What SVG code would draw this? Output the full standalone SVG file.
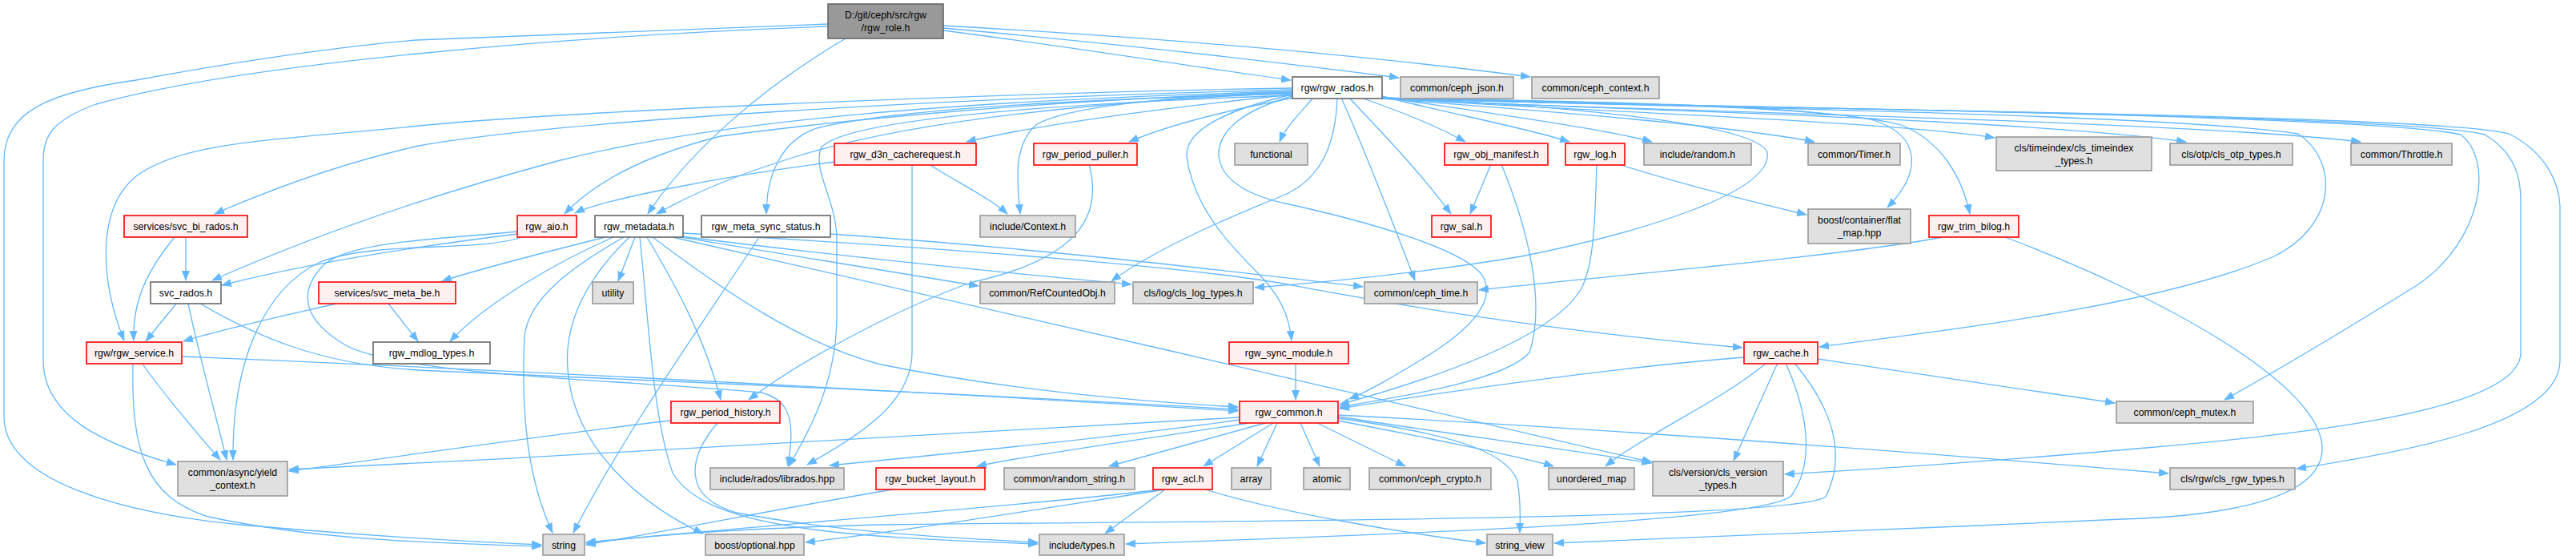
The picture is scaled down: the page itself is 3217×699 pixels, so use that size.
<svg xmlns="http://www.w3.org/2000/svg" width="3217" height="699" viewBox="0 0 3217 699">
<defs>
<style>
.e{fill:none;stroke:#63b8ff;stroke-width:1.3}
.n rect{stroke-width:1.6}
.rt rect{fill:#999999;stroke:#666666}
.w rect{fill:#ffffff;stroke:#666666}
.r rect{fill:#fff0f0;stroke:#ff0000}
.g rect{fill:#e0e0e0;stroke:#999999}
text{font-family:"Liberation Sans",Arial,Helvetica,sans-serif;font-size:12.3px;text-anchor:middle;fill:#000}
</style>
<marker id="a" markerWidth="13" markerHeight="10" refX="12" refY="5" orient="auto" markerUnits="userSpaceOnUse"><path d="M0,0 L13,5 L0,10 Z" fill="#63b8ff"/></marker>
</defs>
<rect width="3217" height="699" fill="#ffffff"/>
<g id="edges">
<path class="e" marker-end="url(#a)" d="M1178,38 C1350,60 1500,85 1612,100"/>
<path class="e" marker-end="url(#a)" d="M1178,35 C1400,55 1600,78 1747,97"/>
<path class="e" marker-end="url(#a)" d="M1178,32 C1500,50 1750,75 1911,96"/>
<path class="e" marker-end="url(#a)" d="M1056,48 C950,110 860,190 809,267"/>
<path class="e" marker-end="url(#a)" d="M1034,33 C700,45 300,80 120,130 C65,150 54,170 54,200 L54,450 C54,520 130,555 220,580"/>
<path class="e" marker-end="url(#a)" d="M1034,30 C800,38 600,48 520,50 C400,60 250,85 170,100 C60,115 5,140 5,200 L5,520 C5,600 150,640 300,655 C450,668 580,676 676,680"/>
<path class="e" marker-end="url(#a)" d="M1614,112 C1200,122 700,150 523,182 C420,205 330,240 268,267"/>
<path class="e" marker-end="url(#a)" d="M1614,110 C1200,117 700,140 523,157 C350,175 230,175 170,220 C120,260 125,350 155,425"/>
<path class="e" marker-end="url(#a)" d="M1614,114 C1200,125 900,150 700,200 C550,240 400,290 265,350"/>
<path class="e" marker-end="url(#a)" d="M1614,115 C1300,125 1050,150 900,170 C800,195 740,230 705,267"/>
<path class="e" marker-end="url(#a)" d="M1614,116 C1300,130 1100,160 980,200 C900,225 850,250 820,267"/>
<path class="e" marker-end="url(#a)" d="M1614,117 C1300,125 1100,140 1020,160 C975,175 957,220 957,267"/>
<path class="e" marker-end="url(#a)" d="M1614,118 C1450,135 1300,155 1207,177"/>
<path class="e" marker-end="url(#a)" d="M1614,115 C1450,120 1330,135 1295,155 C1265,180 1270,225 1274,267"/>
<path class="e" marker-end="url(#a)" d="M1616,122 C1520,140 1450,160 1410,177"/>
<path class="e" marker-end="url(#a)" d="M1640,122 C1620,145 1605,160 1598,177"/>
<path class="e" marker-end="url(#a)" d="M1700,122 C1750,140 1790,155 1830,177"/>
<path class="e" marker-end="url(#a)" d="M1685,122 C1720,160 1770,210 1812,267"/>
<path class="e" marker-end="url(#a)" d="M1726,120 C1800,140 1900,158 1960,177"/>
<path class="e" marker-end="url(#a)" d="M1726,121 C1850,140 2000,160 2063,177"/>
<path class="e" marker-end="url(#a)" d="M1724,123 C1900,136 2150,155 2266,177"/>
<path class="e" marker-end="url(#a)" d="M1724,122 C1900,136 2350,150 2491,172"/>
<path class="e" marker-end="url(#a)" d="M1724,122 C1900,135 2500,145 2730,177"/>
<path class="e" marker-end="url(#a)" d="M1724,122 C1900,136 2700,148 2948,177"/>
<path class="e" marker-end="url(#a)" d="M1724,122 C1900,127 2250,130 2340,150 C2400,170 2400,215 2357,259"/>
<path class="e" marker-end="url(#a)" d="M1724,122 C1900,126 2280,128 2377,157 C2425,178 2450,220 2460,267"/>
<path class="e" marker-end="url(#a)" d="M1675,122 C1710,200 1740,280 1767,350"/>
<path class="e" marker-end="url(#a)" d="M1724,122 C1900,130 2700,140 2870,167 C2920,200 2920,280 2840,320 C2700,380 2450,410 2272,433"/>
<path class="e" marker-end="url(#a)" d="M1724,122 C1900,131 2950,140 3073,168 C3115,200 3100,300 3020,355 C2900,430 2830,470 2778,499"/>
<path class="e" marker-end="url(#a)" d="M1724,122 C1900,132 3000,140 3103,168 C3140,190 3148,220 3148,250 L3148,440 C3148,510 2900,540 2680,559 C2500,575 2350,585 2229,592"/>
<path class="e" marker-end="url(#a)" d="M1724,122 C1900,133 3050,140 3133,167 C3180,190 3197,230 3197,260 L3197,450 C3197,530 3000,565 2868,585"/>
<path class="e" marker-end="url(#a)" d="M1670,122 C1668,180 1650,225 1600,245 C1500,285 1430,320 1388,351"/>
<path class="e" marker-end="url(#a)" d="M1724,122 C1900,129 2190,150 2207,190 C2215,240 2050,290 1900,320 C1750,345 1620,355 1567,359"/>
<path class="e" marker-end="url(#a)" d="M1614,118 C1540,135 1480,160 1482,195 C1490,260 1540,310 1570,340 C1600,370 1610,395 1613,425"/>
<path class="e" marker-end="url(#a)" d="M1614,120 C1560,135 1520,160 1522,195 C1525,225 1560,245 1610,255 C1700,275 1830,310 1852,345 C1868,375 1840,410 1775,449 C1740,470 1710,488 1685,498"/>
<path class="e" marker-end="url(#a)" d="M1614,119 C1300,130 1050,150 1025,185 C1015,215 1045,250 1045,300 L1045,400 C1043,480 1010,540 985,582"/>
<path class="e" marker-end="url(#a)" d="M646,292 C500,310 380,330 277,356"/>
<path class="e" marker-end="url(#a)" d="M651,296 C600,315 470,300 400,327 C330,360 290,450 291,574"/>
<path class="e" marker-end="url(#a)" d="M646,289 C560,298 440,300 405,330 C370,365 380,400 430,430 C500,470 800,475 950,490 C995,500 990,540 984,582"/>
<path class="e" marker-end="url(#a)" d="M756,296 C680,315 600,335 552,351"/>
<path class="e" marker-end="url(#a)" d="M766,296 C700,325 610,375 562,426"/>
<path class="e" marker-end="url(#a)" d="M779,296 C720,330 660,370 655,420 C650,520 660,600 690,665"/>
<path class="e" marker-end="url(#a)" d="M793,296 L772,351"/>
<path class="e" marker-end="url(#a)" d="M786,296 C740,340 700,400 710,470 C720,560 800,630 878,666"/>
<path class="e" marker-end="url(#a)" d="M799,296 C810,400 815,520 840,590 C880,660 1050,670 1296,679"/>
<path class="e" marker-end="url(#a)" d="M808,296 C840,350 880,420 900,499"/>
<path class="e" marker-end="url(#a)" d="M815,296 C900,360 1000,430 1100,455 C1250,485 1400,500 1546,508"/>
<path class="e" marker-end="url(#a)" d="M840,296 C1200,380 1700,490 2063,577"/>
<path class="e" marker-end="url(#a)" d="M850,296 C1000,320 1150,345 1222,357"/>
<path class="e" marker-end="url(#a)" d="M850,295 C1050,320 1300,345 1413,355"/>
<path class="e" marker-end="url(#a)" d="M853,291 C1200,310 1500,335 1608,355 C1700,372 1900,410 2176,434"/>
<path class="e" marker-end="url(#a)" d="M1037,292 C1300,310 1550,340 1702,358"/>
<path class="e" marker-end="url(#a)" d="M948,296 C880,400 780,540 716,665"/>
<path class="e" marker-end="url(#a)" d="M1042,202 C900,220 750,250 718,266"/>
<path class="e" marker-end="url(#a)" d="M1160,205 C1200,230 1240,250 1258,267"/>
<path class="e" marker-end="url(#a)" d="M1139,205 L1139,440 C1139,500 1080,540 1008,580"/>
<path class="e" marker-end="url(#a)" d="M1360,205 C1375,260 1360,320 1215,352 C1120,385 1000,450 935,499"/>
<path class="e" marker-end="url(#a)" d="M1862,205 L1836,267"/>
<path class="e" marker-end="url(#a)" d="M1875,205 C1910,290 1930,380 1910,440 C1880,475 1750,495 1673,508"/>
<path class="e" marker-end="url(#a)" d="M2021,205 C2100,230 2180,250 2256,268"/>
<path class="e" marker-end="url(#a)" d="M1994,205 C1992,280 1990,330 1975,360 C1940,420 1800,470 1673,505"/>
<path class="e" marker-end="url(#a)" d="M2426,296 C2300,320 2000,345 1847,362"/>
<path class="e" marker-end="url(#a)" d="M2504,296 C2700,370 2900,480 2900,560 C2900,630 2750,645 2650,648 C2400,660 2100,670 1941,678"/>
<path class="e" marker-end="url(#a)" d="M420,379 C350,395 280,410 229,426"/>
<path class="e" marker-end="url(#a)" d="M485,379 L522,426"/>
<path class="e" marker-end="url(#a)" d="M220,379 L182,426"/>
<path class="e" marker-end="url(#a)" d="M235,379 C250,450 270,520 283,574"/>
<path class="e" marker-end="url(#a)" d="M250,379 C320,420 400,455 523,462 C800,475 1200,490 1546,511"/>
<path class="e" marker-end="url(#a)" d="M232,296 L232,350"/>
<path class="e" marker-end="url(#a)" d="M218,296 C190,330 165,370 167,425"/>
<path class="e" marker-end="url(#a)" d="M177,453 C210,500 250,545 275,574"/>
<path class="e" marker-end="url(#a)" d="M166,454 C164,560 180,620 260,645 C400,675 550,678 676,682"/>
<path class="e" marker-end="url(#a)" d="M227,445 C500,456 1000,480 1546,513"/>
<path class="e" marker-end="url(#a)" d="M838,525 C700,540 500,570 361,588"/>
<path class="e" marker-end="url(#a)" d="M896,528 C860,570 850,620 920,640 C1050,665 1200,672 1296,677"/>
<path class="e" marker-end="url(#a)" d="M1548,521 C1300,535 800,565 361,586"/>
<path class="e" marker-end="url(#a)" d="M1548,524 C1400,545 1200,565 1036,581"/>
<path class="e" marker-end="url(#a)" d="M1560,528 C1450,545 1300,565 1220,582"/>
<path class="e" marker-end="url(#a)" d="M1580,528 L1385,582"/>
<path class="e" marker-end="url(#a)" d="M1590,528 L1503,582"/>
<path class="e" marker-end="url(#a)" d="M1595,528 L1570,582"/>
<path class="e" marker-end="url(#a)" d="M1624,528 L1648,582"/>
<path class="e" marker-end="url(#a)" d="M1645,528 L1755,582"/>
<path class="e" marker-end="url(#a)" d="M1671,525 C1750,540 1900,570 1940,582"/>
<path class="e" marker-end="url(#a)" d="M1671,520 C1800,540 1950,560 2062,578"/>
<path class="e" marker-end="url(#a)" d="M1671,518 C2000,535 2400,565 2708,591"/>
<path class="e" marker-end="url(#a)" d="M1671,522 C1800,540 1880,560 1895,600 C1900,630 1898,650 1898,665"/>
<path class="e" marker-end="url(#a)" d="M1618,453 L1618,499"/>
<path class="e" marker-end="url(#a)" d="M1449,611 C1300,630 900,660 732,677"/>
<path class="e" marker-end="url(#a)" d="M1455,611 C1300,635 1150,660 1006,677"/>
<path class="e" marker-end="url(#a)" d="M1455,611 L1380,666"/>
<path class="e" marker-end="url(#a)" d="M1505,611 C1600,640 1750,665 1855,678"/>
<path class="e" marker-end="url(#a)" d="M1115,611 C1000,630 850,660 732,680"/>
<path class="e" marker-end="url(#a)" d="M2178,446 C2000,460 1800,490 1673,510"/>
<path class="e" marker-end="url(#a)" d="M2270,448 L2641,503"/>
<path class="e" marker-end="url(#a)" d="M2206,453 C2150,500 2050,545 2005,582"/>
<path class="e" marker-end="url(#a)" d="M2220,453 L2165,575"/>
<path class="e" marker-end="url(#a)" d="M2230,453 C2260,520 2265,580 2237,619 C2200,650 1800,665 1406,679"/>
<path class="e" marker-end="url(#a)" d="M2241,453 C2280,500 2310,560 2280,620 C2240,650 1500,650 1100,655 C900,660 800,670 732,678"/>
</g>
<g id="n_root" class="n rt"><rect x="1034" y="5" width="144" height="43"/><text x="1106" y="23">D:/git/ceph/src/rgw</text><text x="1106" y="39">/rgw_role.h</text></g>
<g id="n_rados" class="n w"><rect x="1614" y="96" width="112" height="27"/><text x="1670" y="114">rgw/rgw_rados.h</text></g>
<g id="n_ceph_json" class="n g"><rect x="1749" y="96" width="141" height="27"/><text x="1819.5" y="114">common/ceph_json.h</text></g>
<g id="n_ceph_context" class="n g"><rect x="1913" y="96" width="159" height="27"/><text x="1992.5" y="114">common/ceph_context.h</text></g>
<g id="n_svc_bi_rados" class="n r"><rect x="155" y="269" width="154" height="27"/><text x="232" y="287">services/svc_bi_rados.h</text></g>
<g id="n_rgw_aio" class="n r"><rect x="646" y="269" width="74" height="27"/><text x="683" y="287">rgw_aio.h</text></g>
<g id="n_rgw_metadata" class="n w"><rect x="743" y="269" width="110" height="27"/><text x="798" y="287">rgw_metadata.h</text></g>
<g id="n_meta_sync_status" class="n w"><rect x="876" y="269" width="161" height="27"/><text x="956.5" y="287">rgw_meta_sync_status.h</text></g>
<g id="n_d3n" class="n r"><rect x="1042" y="179" width="177" height="27"/><text x="1130.5" y="197">rgw_d3n_cacherequest.h</text></g>
<g id="n_period_puller" class="n r"><rect x="1291" y="179" width="129" height="27"/><text x="1355.5" y="197">rgw_period_puller.h</text></g>
<g id="n_context" class="n g"><rect x="1224" y="269" width="119" height="27"/><text x="1283.5" y="287">include/Context.h</text></g>
<g id="n_functional" class="n g"><rect x="1542" y="179" width="91" height="27"/><text x="1587.5" y="197">functional</text></g>
<g id="n_obj_manifest" class="n r"><rect x="1804" y="179" width="129" height="27"/><text x="1868.5" y="197">rgw_obj_manifest.h</text></g>
<g id="n_rgw_log" class="n r"><rect x="1955" y="179" width="74" height="27"/><text x="1992" y="197">rgw_log.h</text></g>
<g id="n_random" class="n g"><rect x="2053" y="179" width="134" height="27"/><text x="2120" y="197">include/random.h</text></g>
<g id="n_rgw_sal" class="n r"><rect x="1788" y="269" width="74" height="27"/><text x="1825" y="287">rgw_sal.h</text></g>
<g id="n_timer" class="n g"><rect x="2258" y="179" width="115" height="27"/><text x="2315.5" y="197">common/Timer.h</text></g>
<g id="n_timeindex" class="n g"><rect x="2493" y="171" width="194" height="42"/><text x="2590" y="189">cls/timeindex/cls_timeindex</text><text x="2590" y="205">_types.h</text></g>
<g id="n_flat_map" class="n g"><rect x="2258" y="261" width="128" height="43"/><text x="2322" y="279">boost/container/flat</text><text x="2322" y="295">_map.hpp</text></g>
<g id="n_trim_bilog" class="n r"><rect x="2409" y="269" width="112" height="27"/><text x="2465" y="287">rgw_trim_bilog.h</text></g>
<g id="n_otp" class="n g"><rect x="2710" y="179" width="153" height="27"/><text x="2786.5" y="197">cls/otp/cls_otp_types.h</text></g>
<g id="n_throttle" class="n g"><rect x="2936" y="179" width="126" height="27"/><text x="2999" y="197">common/Throttle.h</text></g>
<g id="n_svc_rados" class="n w"><rect x="188" y="352" width="88" height="27"/><text x="232" y="370">svc_rados.h</text></g>
<g id="n_svc_meta_be" class="n r"><rect x="398" y="352" width="171" height="27"/><text x="483.5" y="370">services/svc_meta_be.h</text></g>
<g id="n_rgw_service" class="n r"><rect x="108" y="427" width="119" height="27"/><text x="167.5" y="445">rgw/rgw_service.h</text></g>
<g id="n_yield_context" class="n g"><rect x="222" y="576" width="137" height="43"/><text x="290.5" y="594">common/async/yield</text><text x="290.5" y="610">_context.h</text></g>
<g id="n_mdlog_types" class="n w"><rect x="466" y="427" width="146" height="27"/><text x="539" y="445">rgw_mdlog_types.h</text></g>
<g id="n_utility" class="n g"><rect x="740" y="352" width="51" height="27"/><text x="765.5" y="370">utility</text></g>
<g id="n_period_history" class="n r"><rect x="838" y="501" width="136" height="27"/><text x="906" y="519">rgw_period_history.h</text></g>
<g id="n_librados" class="n g"><rect x="887" y="584" width="167" height="27"/><text x="970.5" y="602">include/rados/librados.hpp</text></g>
<g id="n_string" class="n g"><rect x="678" y="667" width="52" height="26"/><text x="704" y="685">string</text></g>
<g id="n_optional" class="n g"><rect x="881" y="667" width="123" height="26"/><text x="942.5" y="685">boost/optional.hpp</text></g>
<g id="n_refcounted" class="n g"><rect x="1224" y="352" width="168" height="27"/><text x="1308" y="370">common/RefCountedObj.h</text></g>
<g id="n_cls_log" class="n g"><rect x="1415" y="352" width="150" height="27"/><text x="1490" y="370">cls/log/cls_log_types.h</text></g>
<g id="n_sync_module" class="n r"><rect x="1535" y="427" width="149" height="27"/><text x="1609.5" y="445">rgw_sync_module.h</text></g>
<g id="n_rgw_common" class="n r"><rect x="1548" y="501" width="123" height="27"/><text x="1609.5" y="519">rgw_common.h</text></g>
<g id="n_bucket_layout" class="n r"><rect x="1094" y="584" width="136" height="27"/><text x="1162" y="602">rgw_bucket_layout.h</text></g>
<g id="n_random_string" class="n g"><rect x="1254" y="584" width="163" height="27"/><text x="1335.5" y="602">common/random_string.h</text></g>
<g id="n_rgw_acl" class="n r"><rect x="1440" y="584" width="74" height="27"/><text x="1477" y="602">rgw_acl.h</text></g>
<g id="n_array" class="n g"><rect x="1538" y="584" width="49" height="27"/><text x="1562.5" y="602">array</text></g>
<g id="n_types" class="n g"><rect x="1298" y="667" width="106" height="26"/><text x="1351" y="685">include/types.h</text></g>
<g id="n_ceph_time" class="n g"><rect x="1704" y="352" width="141" height="27"/><text x="1774.5" y="370">common/ceph_time.h</text></g>
<g id="n_atomic" class="n g"><rect x="1628" y="584" width="58" height="27"/><text x="1657" y="602">atomic</text></g>
<g id="n_ceph_crypto" class="n g"><rect x="1710" y="584" width="152" height="27"/><text x="1786" y="602">common/ceph_crypto.h</text></g>
<g id="n_unordered_map" class="n g"><rect x="1934" y="584" width="107" height="27"/><text x="1987.5" y="602">unordered_map</text></g>
<g id="n_cls_version" class="n g"><rect x="2064" y="576" width="163" height="43"/><text x="2145.5" y="594">cls/version/cls_version</text><text x="2145.5" y="610">_types.h</text></g>
<g id="n_string_view" class="n g"><rect x="1857" y="667" width="82" height="26"/><text x="1898" y="685">string_view</text></g>
<g id="n_rgw_cache" class="n r"><rect x="2178" y="427" width="92" height="27"/><text x="2224" y="445">rgw_cache.h</text></g>
<g id="n_ceph_mutex" class="n g"><rect x="2643" y="501" width="171" height="27"/><text x="2728.5" y="519">common/ceph_mutex.h</text></g>
<g id="n_cls_rgw" class="n g"><rect x="2710" y="584" width="156" height="27"/><text x="2788" y="602">cls/rgw/cls_rgw_types.h</text></g>
</svg>
